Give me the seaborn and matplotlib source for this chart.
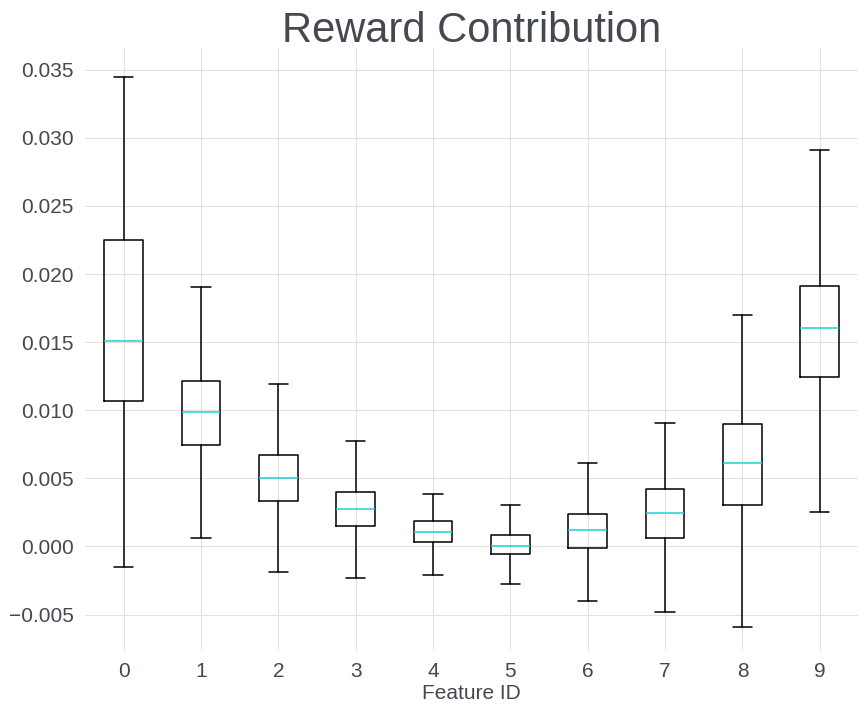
import matplotlib
matplotlib.use("Agg")
import matplotlib.pyplot as plt
import seaborn as sns

# box stats per feature
feature_ids = [0, 1, 2, 3, 4, 5, 6, 7, 8, 9]
whisker_low = [-0.00154, 0.00059, -0.00191, -0.00235, -0.00213, -0.00279, -0.00404, -0.00478, -0.00588, 0.00250]
q1 = [0.01066, 0.00743, 0.00331, 0.00147, 0.00029, -0.00059, -0.00015, 0.00059, 0.00301, 0.01243]
median = [0.01507, 0.00985, 0.00500, 0.00272, 0.00103, 0.00000, 0.00118, 0.00243, 0.00610, 0.01603]
q3 = [0.02250, 0.01213, 0.00669, 0.00397, 0.00184, 0.00081, 0.00235, 0.00419, 0.00897, 0.01912]
whisker_high = [0.03450, 0.01904, 0.01191, 0.00772, 0.00382, 0.00301, 0.00610, 0.00904, 0.01699, 0.02912]

sns.set_theme(style="whitegrid")
plt.rcParams["font.family"] = ["Liberation Sans", "DejaVu Sans"]
text_color = "#444850"

stats = []
for i in range(len(feature_ids)):
    stats.append({"label": str(feature_ids[i]), "whislo": whisker_low[i], "q1": q1[i],
                  "med": median[i], "q3": q3[i], "whishi": whisker_high[i], "fliers": []})

fig, ax = plt.subplots(figsize=(8.68, 7.15), dpi=100)
ax.bxp(stats, positions=feature_ids, widths=0.5, showfliers=False,
       boxprops={"color": "black", "linewidth": 1.1},
       whiskerprops={"color": "black", "linewidth": 1.1},
       capprops={"color": "black", "linewidth": 1.1},
       medianprops={"color": "#19d3d3", "linewidth": 1.1})

ax.set_xlim(-0.5, 9.5)
ax.set_ylim(-0.00765, 0.0366)
ax.set_yticks([-0.005, 0, 0.005, 0.01, 0.015, 0.02, 0.025, 0.03, 0.035])
ax.set_yticklabels(["\u22120.005", "0.000", "0.005", "0.010", "0.015", "0.020", "0.025", "0.030", "0.035"])
ax.grid(True, color="#e2e0e0", linewidth=0.8)
for s in ax.spines.values():
    s.set_visible(False)
ax.tick_params(axis="both", labelsize=15, colors=text_color, length=0, pad=8)
ax.set_xlabel("Feature ID", fontsize=15, color=text_color, labelpad=2)
ax.set_title("Reward Contribution", fontsize=30, color=text_color, pad=4)

plt.subplots_adjust(left=0.098, right=0.989, top=0.933, bottom=0.09)
plt.savefig("out.png")
